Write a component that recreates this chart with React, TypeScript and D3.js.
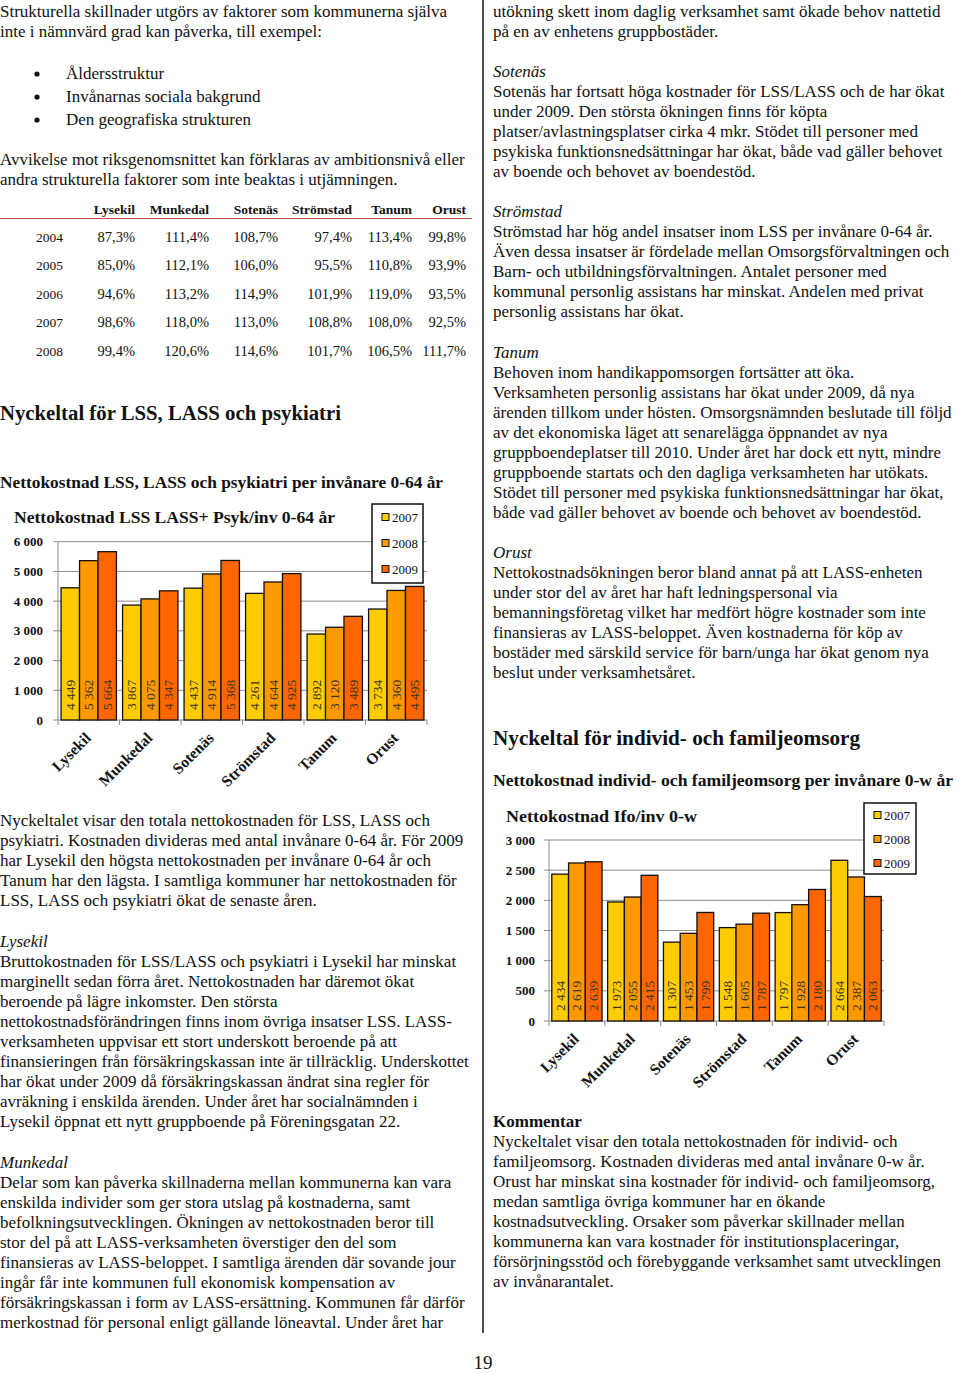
import React from "react";
import * as d3 from "d3";

// ---------- DATA ----------
const municipalities = ["Lysekil", "Munkedal", "Sotenäs", "Strömstad", "Tanum", "Orust"];
const years = ["2007", "2008", "2009"];

const lss2007 = [4449, 3867, 4437, 4261, 2892, 3734];
const lss2008 = [5362, 4075, 4914, 4644, 3120, 4360];
const lss2009 = [5664, 4347, 5368, 4925, 3489, 4495];
const lssTicks = [0, 1000, 2000, 3000, 4000, 5000, 6000];

const ifo2007 = [2434, 1973, 1307, 1548, 1797, 2664];
const ifo2008 = [2619, 2055, 1453, 1605, 1928, 2387];
const ifo2009 = [2639, 2415, 1799, 1787, 2180, 2063];
const ifoTicks = [0, 500, 1000, 1500, 2000, 2500, 3000];

const tableYears = ["2004", "2005", "2006", "2007", "2008"];
const tableRow2004 = [87.3, 111.4, 108.7, 97.4, 113.4, 99.8];
const tableRow2005 = [85.0, 112.1, 106.0, 95.5, 110.8, 93.9];
const tableRow2006 = [94.6, 113.2, 114.9, 101.9, 119.0, 93.5];
const tableRow2007 = [98.6, 118.0, 113.0, 108.8, 108.0, 92.5];
const tableRow2008 = [99.4, 120.6, 114.6, 101.7, 106.5, 111.7];

const introLeft = [
  "Strukturella skillnader utgörs av faktorer som kommunerna själva",
  "inte i nämnvärd grad kan påverka, till exempel:",
];
const bullets = ["Åldersstruktur", "Invånarnas sociala bakgrund", "Den geografiska strukturen"];
const avvikelse = [
  "Avvikelse mot riksgenomsnittet kan förklaras av ambitionsnivå eller",
  "andra strukturella faktorer som inte beaktas i utjämningen.",
];
const para1 = [
  "Nyckeltalet visar den totala nettokostnaden för LSS, LASS och",
  "psykiatri. Kostnaden divideras med antal invånare 0-64 år. För 2009",
  "har Lysekil den högsta nettokostnaden per invånare 0-64 år och",
  "Tanum har den lägsta. I samtliga kommuner har nettokostnaden för",
  "LSS, LASS och psykiatri ökat de senaste åren.",
];
const lysekilText = [
  "Bruttokostnaden för LSS/LASS och psykiatri i Lysekil har minskat",
  "marginellt sedan förra året. Nettokostnaden har däremot ökat",
  "beroende på lägre inkomster. Den största",
  "nettokostnadsförändringen finns inom övriga insatser LSS. LASS-",
  "verksamheten uppvisar ett stort underskott beroende på att",
  "finansieringen från försäkringskassan inte är tillräcklig. Underskottet",
  "har ökat under 2009 då försäkringskassan ändrat sina regler för",
  "avräkning i enskilda ärenden. Under året har socialnämnden i",
  "Lysekil öppnat ett nytt gruppboende på Föreningsgatan 22.",
];
const munkedalText = [
  "Delar som kan påverka skillnaderna mellan kommunerna kan vara",
  "enskilda individer som ger stora utslag på kostnaderna, samt",
  "befolkningsutvecklingen. Ökningen av nettokostnaden beror till",
  "stor del på att LASS-verksamheten överstiger den del som",
  "finansieras av LASS-beloppet. I samtliga ärenden där sovande jour",
  "ingår får inte kommunen full ekonomisk kompensation av",
  "försäkringskassan i form av LASS-ersättning. Kommunen får därför",
  "merkostnad för personal enligt gällande löneavtal. Under året har",
];
const introRight = [
  "utökning skett inom daglig verksamhet samt ökade behov nattetid",
  "på en av enhetens gruppbostäder.",
];
const sotenasText = [
  "Sotenäs har fortsatt höga kostnader för LSS/LASS och de har ökat",
  "under 2009. Den största ökningen finns för köpta",
  "platser/avlastningsplatser cirka 4 mkr. Stödet till personer med",
  "psykiska funktionsnedsättningar har ökat, både vad gäller behovet",
  "av boende och behovet av boendestöd.",
];
const stromstadText = [
  "Strömstad har hög andel insatser inom LSS per invånare 0-64 år.",
  "Även dessa insatser är fördelade mellan Omsorgsförvaltningen och",
  "Barn- och utbildningsförvaltningen. Antalet personer med",
  "kommunal personlig assistans har minskat. Andelen med privat",
  "personlig assistans har ökat.",
];
const tanumText = [
  "Behoven inom handikappomsorgen fortsätter att öka.",
  "Verksamheten personlig assistans har ökat under 2009, då nya",
  "ärenden tillkom under hösten. Omsorgsnämnden beslutade till följd",
  "av det ekonomiska läget att senarelägga öppnandet av nya",
  "gruppboendeplatser till 2010. Under året har dock ett nytt, mindre",
  "gruppboende startats och den dagliga verksamheten har utökats.",
  "Stödet till personer med psykiska funktionsnedsättningar har ökat,",
  "både vad gäller behovet av boende och behovet av boendestöd.",
];
const orustText = [
  "Nettokostnadsökningen beror bland annat på att LASS-enheten",
  "under stor del av året har haft ledningspersonal via",
  "bemanningsföretag vilket har medfört högre kostnader som inte",
  "finansieras av LASS-beloppet. Även kostnaderna för köp av",
  "bostäder med särskild service för barn/unga har ökat genom nya",
  "beslut under verksamhetsåret.",
];
const kommentarText = [
  "Nyckeltalet visar den totala nettokostnaden för individ- och",
  "familjeomsorg. Kostnaden divideras med antal invånare 0-w år.",
  "Orust har minskat sina kostnader för individ- och familjeomsorg,",
  "medan samtliga övriga kommuner har en ökande",
  "kostnadsutveckling. Orsaker som påverkar skillnader mellan",
  "kommunerna kan vara kostnader för institutionsplaceringar,",
  "försörjningsstöd och förebyggande verksamhet samt utvecklingen",
  "av invånarantalet.",
];

// ---------- STYLE ----------
const FONT = "'Liberation Serif', 'Times New Roman', serif";
const TEXT = "#111";
const BODY = 17;
const LH = 20;
const yearColors = ["#FFCC00", "#FF9900", "#FF6600"];

const locale = d3.formatLocale({
  decimal: ",",
  thousands: "\u00a0",
  grouping: [3],
  currency: ["", ""],
});
const fmtInt = locale.format(",d");
const fmtPct = locale.format(".1f");

function Lines({ lines, x, y, italic = false, bold = false, size = BODY }: any) {
  return (
    <g>
      {lines.map((s: string, i: number) => (
        <text
          key={i}
          x={x}
          y={y + i * LH}
          fontSize={size}
          fontStyle={italic ? "italic" : "normal"}
          fontWeight={bold ? "bold" : "normal"}
          fill={TEXT}
        >
          {s}
        </text>
      ))}
    </g>
  );
}

function BarChart({ series, ticks, x0, x1, y0, yTop, title, titleX, titleY, titleLen, legend, labelX }: any) {
  const yMax = ticks[ticks.length - 1];
  const y = d3.scaleLinear().domain([0, yMax]).range([y0, yTop]);
  const xOuter = d3.scaleBand().domain(municipalities).range([x0, x1]).paddingInner(0).paddingOuter(0);
  const xInner = d3
    .scaleBand()
    .domain(years)
    .range([0, xOuter.bandwidth()])
    .paddingInner(0)
    .paddingOuter(1 / 6);
  const bounds = municipalities.map((m) => xOuter(m) as number).concat([x1]);
  return (
    <g fontFamily={FONT}>
      <text x={titleX} y={titleY} fontSize={16} fontWeight="bold" fill={TEXT} textLength={titleLen} lengthAdjust="spacingAndGlyphs">
        {title}
      </text>
      {ticks.map((t: number) => (
        <g key={t}>
          <line x1={x0 - 5} x2={x1} y1={y(t)} y2={y(t)} stroke="#8c8c8c" strokeWidth={1} />
          <text x={labelX} y={y(t) + 4.5} fontSize={13} fontWeight="bold" textAnchor="end" fill={TEXT}>
            {fmtInt(t)}
          </text>
        </g>
      ))}
      <line x1={x0} x2={x0} y1={yTop} y2={y0} stroke="#8c8c8c" strokeWidth={1} />
      {bounds.map((b: number, i: number) => (
        <line key={i} x1={b} x2={b} y1={y0} y2={y0 + 5} stroke="#8c8c8c" strokeWidth={1} />
      ))}
      {municipalities.map((m, mi) => (
        <g key={m}>
          {years.map((yr, yi) => {
            const v = series[yi][mi];
            const bx = (xOuter(m) as number) + (xInner(yr) as number);
            const bw = xInner.bandwidth();
            return (
              <g key={yr}>
                <rect x={bx} y={y(v)} width={bw} height={y0 - y(v)} fill={yearColors[yi]} stroke="#111" strokeWidth={1.3} />
                <text
                  transform={`translate(${bx + bw / 2 + 4.5},${y0 - 10}) rotate(-90)`}
                  fontSize={13.5}
                  fill="#3a3520"
                >
                  {fmtInt(v)}
                </text>
              </g>
            );
          })}
          <text
            transform={`translate(${(xOuter(m) as number) + xOuter.bandwidth() / 2 + 3},${y0 + 19}) rotate(-45)`}
            fontSize={15.5}
            fontWeight="bold"
            textAnchor="end"
            fill={TEXT}
          >
            {m}
          </text>
        </g>
      ))}
      <rect x={legend.x} y={legend.y} width={legend.w} height={legend.h} fill="#fff" stroke="#111" strokeWidth={1.5} />
      {years.map((yr, i) => (
        <g key={yr}>
          <rect
            x={legend.x + 10}
            y={legend.y + legend.first + i * legend.step - 3.5}
            width={7}
            height={7}
            fill={yearColors[i]}
            stroke="#111"
            strokeWidth={1}
          />
          <text x={legend.x + 20} y={legend.y + legend.first + i * legend.step + 4.5} fontSize={13} fill={TEXT}>
            {yr}
          </text>
        </g>
      ))}
    </g>
  );
}

export default function App() {
  const tableRows = [tableRow2004, tableRow2005, tableRow2006, tableRow2007, tableRow2008];
  const colRight = [135, 209, 278, 352, 412, 466];
  const L = 0;
  const R = 493;
  return (
    <svg
      width={960}
      height={1374}
      viewBox="0 0 960 1374"
      style={{ position: "absolute", left: 0, top: 0, background: "#fff" }}
      fontFamily={FONT}
    >
      <rect x={0} y={0} width={960} height={1374} fill="#fff" />
      {/* column separator */}
      <line x1={483} x2={483} y1={0} y2={1333} stroke="#111" strokeWidth={1.5} />

      {/* LEFT COLUMN */}
      <Lines lines={introLeft} x={L} y={17} />
      {bullets.map((b, i) => (
        <g key={b}>
          <circle cx={37} cy={74 + i * 23} r={2.6} fill={TEXT} />
          <text x={66} y={79 + i * 23} fontSize={BODY} fill={TEXT}>
            {b}
          </text>
        </g>
      ))}
      <Lines lines={avvikelse} x={L} y={165} />

      {/* table */}
      {municipalities.map((m, i) => (
        <text key={m} x={colRight[i]} y={214} fontSize={13.5} fontWeight="bold" textAnchor="end" fill={TEXT}>
          {m}
        </text>
      ))}
      <line x1={0} x2={472} y1={218.5} y2={218.5} stroke="#c0504d" strokeWidth={1.2} />
      {tableRows.map((row, ri) => (
        <g key={ri}>
          <text x={36} y={242 + ri * 28.4} fontSize={13.5} fill={TEXT}>
            {tableYears[ri]}
          </text>
          {row.map((v, ci) => (
            <text key={ci} x={colRight[ci]} y={242 + ri * 28.4} fontSize={14.5} textAnchor="end" fill={TEXT}>
              {fmtPct(v)}%
            </text>
          ))}
        </g>
      ))}

      <text x={L} y={420} fontSize={20} fontWeight="bold" fill={TEXT} textLength={341} lengthAdjust="spacingAndGlyphs">
        Nyckeltal för LSS, LASS och psykiatri
      </text>
      <text x={L} y={488} fontSize={16} fontWeight="bold" fill={TEXT} textLength={443} lengthAdjust="spacingAndGlyphs">
        Nettokostnad LSS, LASS och psykiatri per invånare 0-64 år
      </text>

      <BarChart
        series={[lss2007, lss2008, lss2009]}
        ticks={lssTicks}
        x0={58}
        x1={427}
        y0={720}
        yTop={541.7}
        title="Nettokostnad  LSS LASS+ Psyk/inv 0-64  år"
        titleX={14}
        titleY={523}
        titleLen={321}
        labelX={43}
        legend={{ x: 372, y: 504, w: 51, h: 79, first: 13, step: 26 }}
      />

      <Lines lines={para1} x={L} y={826} />
      <Lines lines={["Lysekil"]} x={L} y={947} italic />
      <Lines lines={lysekilText} x={L} y={967} />
      <Lines lines={["Munkedal"]} x={L} y={1168} italic />
      <Lines lines={munkedalText} x={L} y={1188} />

      {/* RIGHT COLUMN */}
      <Lines lines={introRight} x={R} y={17} />
      <Lines lines={["Sotenäs"]} x={R} y={77} italic />
      <Lines lines={sotenasText} x={R} y={97} />
      <Lines lines={["Strömstad"]} x={R} y={217} italic />
      <Lines lines={stromstadText} x={R} y={237} />
      <Lines lines={["Tanum"]} x={R} y={358} italic />
      <Lines lines={tanumText} x={R} y={378} />
      <Lines lines={["Orust"]} x={R} y={558} italic />
      <Lines lines={orustText} x={R} y={578} />

      <text x={R} y={745} fontSize={20} fontWeight="bold" fill={TEXT} textLength={367} lengthAdjust="spacingAndGlyphs">
        Nyckeltal för individ- och familjeomsorg
      </text>
      <text x={R} y={786} fontSize={16} fontWeight="bold" fill={TEXT} textLength={460} lengthAdjust="spacingAndGlyphs">
        Nettokostnad individ- och familjeomsorg per invånare 0-w år
      </text>

      <BarChart
        series={[ifo2007, ifo2008, ifo2009]}
        ticks={ifoTicks}
        x0={549}
        x1={884}
        y0={1021}
        yTop={840}
        title="Nettokostnad Ifo/inv 0-w"
        titleX={506}
        titleY={822}
        titleLen={191}
        labelX={535}
        legend={{ x: 864, y: 803, w: 52, h: 71, first: 12, step: 24 }}
      />

      <text x={R} y={1127} fontSize={BODY} fontWeight="bold" fill={TEXT}>
        Kommentar
      </text>
      <Lines lines={kommentarText} x={R} y={1147} />

      <text x={483} y={1369} fontSize={19} textAnchor="middle" fill={TEXT}>
        19
      </text>
    </svg>
  );
}
